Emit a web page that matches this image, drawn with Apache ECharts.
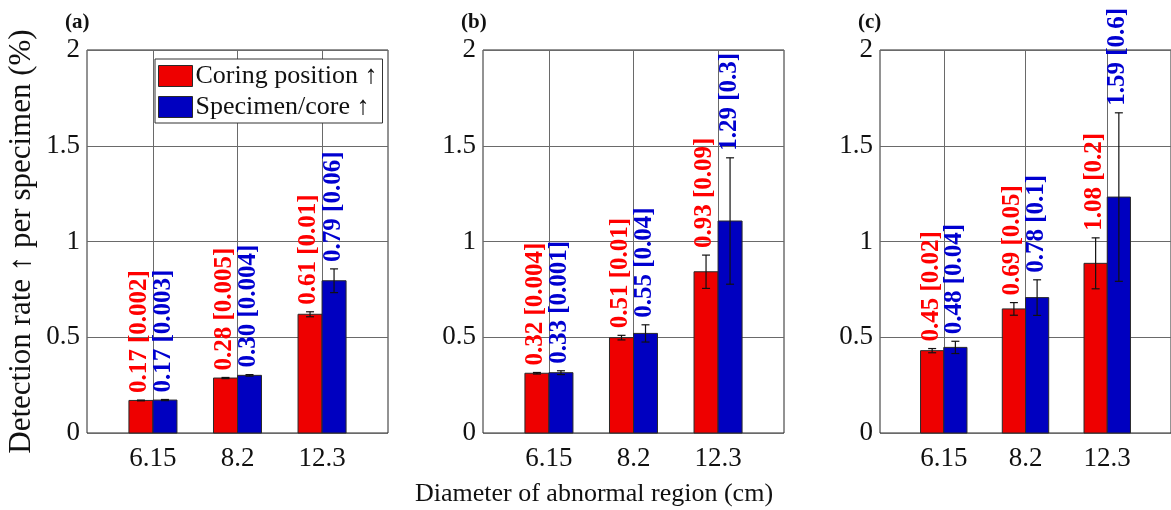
<!DOCTYPE html>
<html style="height: 100%">
<head>
    <meta charset="utf-8">
    <script src="https://cdn.jsdelivr.net/npm/echarts@6/dist/echarts.min.js"></script>
</head>
<body style="height: 100%; margin: 0; background: #fff">
<div id="container" style="width:1171px; height:510px"></div>

<script type="text/javascript">
    // categories (abnormal region diameter, cm)
    var categories = ['6.15', '8.2', '12.3'];
    var panelNames = ['(a)', '(b)', '(c)'];
    var seriesNames = ['Coring position \u2191', 'Specimen/core \u2191'];

    // bar heights, per panel
    var coringMean = [[0.17, 0.287, 0.62], [0.312, 0.498, 0.842], [0.43, 0.648, 0.886]];
    var coringErr = [[0.002, 0.003, 0.013], [0.004, 0.012, 0.087], [0.011, 0.033, 0.133]];
    var coreMean = [[0.172, 0.301, 0.795], [0.315, 0.52, 1.107], [0.447, 0.707, 1.232]];
    var coreErr = [[0.003, 0.004, 0.062], [0.01, 0.045, 0.33], [0.032, 0.093, 0.44]];

    // text printed above the bars
    var coringLabels = [['0.17 [0.002]', '0.28 [0.005]', '0.61 [0.01]'],
        ['0.32 [0.004]', '0.51 [0.01]', '0.93 [0.09]'],
        ['0.45 [0.02]', '0.69 [0.05]', '1.08 [0.2]']];
    var coreLabels = [['0.17 [0.003]', '0.30 [0.004]', '0.79 [0.06]'],
        ['0.33 [0.001]', '0.55 [0.04]', '1.29 [0.3]'],
        ['0.48 [0.04]', '0.78 [0.1]', '1.59 [0.6]']];

    var yTicks = [0, 0.5, 1, 1.5, 2];

    var FONT = 'Liberation Serif';
    var BAR_W = 0.284;
    var gridLeft = [87, 483, 880];
    var barColors = ['#ee0000', '#0000c0'];
    var textColors = ['#ff0000', '#0000d0'];

    function makeRender(side, labels, color, textColor) {
        return function (params, api) {
            var x = api.value(0), m = api.value(1), e = api.value(2);
            var w = api.size([BAR_W, 0])[0];
            var base = api.coord([x, 0]);
            var top = api.coord([x, m]);
            var cx = base[0] + side * w / 2;
            var hi = api.coord([x, m + e])[1];
            var lo = api.coord([x, m - e])[1];
            return {
                type: 'group',
                children: [
                    {
                        type: 'rect',
                        shape: {x: cx - w / 2, y: top[1], width: w, height: base[1] - top[1]},
                        style: {fill: color, stroke: '#2a2a2a', lineWidth: 1}
                    },
                    {type: 'line', shape: {x1: cx, y1: lo, x2: cx, y2: hi}, style: {stroke: '#111', lineWidth: 1.2}},
                    {type: 'line', shape: {x1: cx - 4, y1: hi, x2: cx + 4, y2: hi}, style: {stroke: '#111', lineWidth: 1.2}},
                    {type: 'line', shape: {x1: cx - 4, y1: lo, x2: cx + 4, y2: lo}, style: {stroke: '#111', lineWidth: 1.2}},
                    {
                        type: 'text',
                        x: cx - 1,
                        y: hi - 7,
                        rotation: Math.PI / 2,
                        z2: 10,
                        style: {
                            text: labels[params.dataIndex],
                            x: 0, y: 0,
                            fill: textColor,
                            fontSize: 25,
                            fontWeight: 'bold',
                            fontFamily: FONT,
                            align: 'left',
                            verticalAlign: 'middle'
                        }
                    }
                ]
            };
        };
    }

    var grids = [], xAxes = [], yAxes = [], series = [], graphics = [];
    for (var p = 0; p < 3; p++) {
        grids.push({
            left: gridLeft[p], top: 50, width: 301, height: 383,
            show: true, borderColor: '#262626', borderWidth: 1, backgroundColor: '#fff'
        });
        xAxes.push({
            type: 'value', gridIndex: p, min: 0.22, max: 3.78,
            axisLine: {show: false},
            axisTick: {show: false, customValues: [1, 2, 3]},
            axisLabel: {
                customValues: [1, 2, 3],
                formatter: function (v) { return categories[Math.round(v) - 1]; },
                color: '#111', fontSize: 27, fontFamily: FONT, margin: 12
            },
            splitLine: {show: true, lineStyle: {color: '#6a6a6a', width: 1}}
        });
        yAxes.push({
            type: 'value', gridIndex: p, min: yTicks[0], max: yTicks[yTicks.length - 1], interval: 0.5,
            axisLine: {show: false},
            axisTick: {show: false},
            axisLabel: {color: '#111', fontSize: 27, fontFamily: FONT, margin: 7},
            splitLine: {show: true, lineStyle: {color: '#6a6a6a', width: 1}},
            name: p === 0 ? 'Detection rate \u2191 per specimen (%)' : '',
            nameLocation: 'middle',
            nameRotate: 90,
            nameGap: 50,
            nameTextStyle: {color: '#111', fontSize: 31, fontFamily: FONT}
        });
        var groups = [[coringMean, coringErr, coringLabels], [coreMean, coreErr, coreLabels]];
        for (var s = 0; s < 2; s++) {
            var mean = groups[s][0][p], err = groups[s][1][p];
            series.push({
                name: seriesNames[s],
                type: 'custom',
                xAxisIndex: p,
                yAxisIndex: p,
                z: 3,
                itemStyle: {color: barColors[s], borderColor: '#2a2a2a', borderWidth: 1},
                renderItem: makeRender(s === 0 ? -1 : 1, groups[s][2][p], barColors[s], textColors[s]),
                data: categories.map(function (c, j) { return [j + 1, mean[j], err[j]]; })
            });
        }
        graphics.push({
            type: 'text',
            left: gridLeft[p] - 22,
            top: 12,
            style: {text: panelNames[p], fill: '#111', fontSize: 21, fontWeight: 'bold', fontFamily: FONT}
        });
    }
    graphics.push({
        type: 'text',
        x: 594, y: 494,
        style: {
            text: 'Diameter of abnormal region (cm)', fill: '#111', fontSize: 26, fontFamily: FONT,
            align: 'center', verticalAlign: 'middle'
        }
    });

    var myChart = echarts.init(document.getElementById('container'));
    var option = {
        animation: false,
        backgroundColor: '#fff',
        grid: grids,
        xAxis: xAxes,
        yAxis: yAxes,
        legend: {
            data: [{name: seriesNames[0], icon: 'rect'}, {name: seriesNames[1], icon: 'rect'}],
            orient: 'vertical',
            left: 155, top: 59,
            backgroundColor: '#fff',
            borderColor: '#333', borderWidth: 1, borderRadius: 0,
            padding: [4, 5, 3, 3],
            itemWidth: 34, itemHeight: 21, itemGap: 5,
            itemStyle: {borderColor: '#2a2a2a', borderWidth: 1},
            textStyle: {color: '#111', fontSize: 26, fontFamily: FONT, lineHeight: 24, padding: [0, 0, 0, -2]}
        },
        graphic: graphics,
        series: series
    };
    myChart.setOption(option);
</script>

</body>
</html>
